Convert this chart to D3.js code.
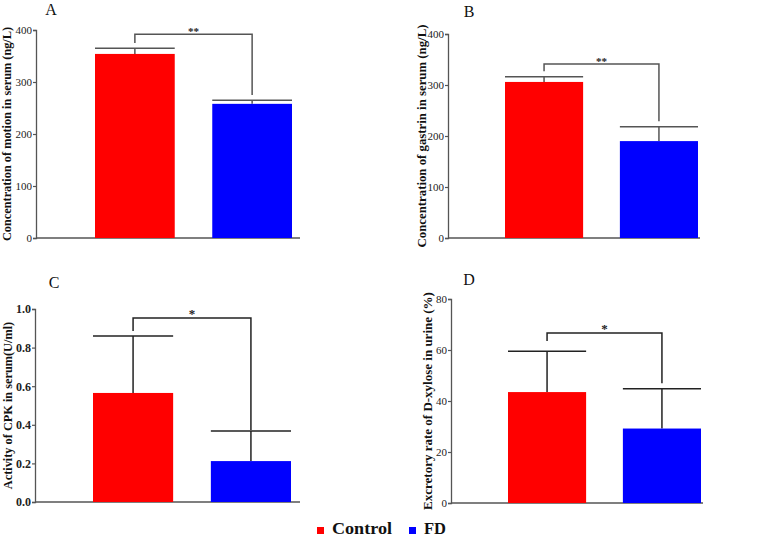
<!DOCTYPE html>
<html><head><meta charset="utf-8">
<script src="https://cdn.jsdelivr.net/npm/d3@7"></script>
<style>body{margin:0;background:#fff}svg{display:block}text{font-family:"Liberation Serif","Times New Roman",serif}</style>
</head><body><svg id="c" width="761" height="538"></svg>
<script>
const groups = ["Control", "FD"];
const panelLetters = ["A", "B", "C", "D"];
const yLabels = [
  "Concentration of  motion in serum (ng/L)",
  "Concentration of  gastrin in serum (ng/L)",
  "Activity of CPK in serum(U/ml)",
  "Excretory rate of D-xylose in urine (%)"
];
const yMaxes = [400, 400, 1.0, 80];
const yTicks = [
  [0, 100, 200, 300, 400],
  [0, 100, 200, 300, 400],
  [0.0, 0.2, 0.4, 0.6, 0.8, 1.0],
  [0, 20, 40, 60, 80]
];
const controlMeans = [354, 306, 0.565, 43.5];
const controlErr = [11, 10, 0.295, 16.0];
const fdMeans = [258, 190, 0.212, 29.2];
const fdErr = [7, 28, 0.156, 15.6];
const sigLabels = ["**", "**", "*", "*"];
const bracketTop = [392, 341, 0.953, 66.7];
const bracketLeftEnd = [375, 327, 0.886, 63.5];
const bracketRightEnd = [275, 229, 0.373, 47];
const colors = ["#ff0000", "#0000ff"];

// layout (pixels)
const layout = [
  {ax:36, xEnd:300, top:30, bottom:238, b0:95, b1:292, lx:51, ly:15, labX:7, tickBold:false, errC:"#555", labSize:12.3, tickSize:11},
  {ax:448, xEnd:700, top:34, bottom:238, b0:505, b1:698, lx:469, ly:17, labX:422, tickBold:false, errC:"#555", labSize:12.8, tickSize:11},
  {ax:35, xEnd:300, top:309, bottom:502, b0:93, b1:291, lx:54, ly:288, labX:8, tickBold:true, errC:"#222", labSize:12.3, tickSize:12},
  {ax:451, xEnd:703, top:299, bottom:503, b0:508, b1:701, lx:469, ly:285, labX:428, tickBold:false, errC:"#222", labSize:13, tickSize:11}
];

const svg = d3.select("#c");
const axisColor = "#555";

layout.forEach((L, i) => {
  const g = svg.append("g");
  const y = d3.scaleLinear().domain([0, yMaxes[i]]).range([L.bottom, L.top]);
  const x = d3.scaleBand().domain(groups).range([L.b0, L.b1]).paddingInner(0.32).paddingOuter(0);
  const means = [controlMeans[i], fdMeans[i]];
  const errs = [controlErr[i], fdErr[i]];
  const fmt = i === 2 ? d3.format(".1f") : d3.format("d");

  // y axis
  const ya = g.append("g").attr("transform", `translate(${L.ax},0)`)
    .call(d3.axisLeft(y).tickValues(yTicks[i]).tickFormat(fmt).tickSize(3).tickPadding(1));
  ya.attr("font-family", null);
  ya.select(".domain").attr("stroke", axisColor).attr("stroke-width", 1.3);
  ya.selectAll(".tick line").attr("stroke", axisColor).attr("stroke-width", 1.2);
  ya.selectAll(".tick text").attr("fill", "#222").attr("font-family", "Liberation Serif")
    .style("font-size", L.tickSize + "px").style("font-weight", L.tickBold ? "bold" : "normal");

  // x axis baseline
  g.append("line").attr("x1", L.ax).attr("x2", L.xEnd).attr("y1", y(0)).attr("y2", y(0))
    .attr("stroke", axisColor).attr("stroke-width", 1.3);

  // error bars
  groups.forEach((k, j) => {
    const cx = x(k) + x.bandwidth() / 2;
    const ty = y(means[j] + errs[j]);
    g.append("line").attr("x1", cx).attr("x2", cx).attr("y1", y(means[j])).attr("y2", ty)
      .attr("stroke", L.errC).attr("stroke-width", 1.5);
    g.append("line").attr("x1", cx - x.bandwidth() * 0.5).attr("x2", cx + x.bandwidth() * 0.5).attr("y1", ty).attr("y2", ty)
      .attr("stroke", L.errC).attr("stroke-width", 1.5);
  });

  // bars
  g.selectAll("rect.bar").data(groups).enter().append("rect").attr("class", "bar")
    .attr("x", k => x(k)).attr("width", x.bandwidth())
    .attr("y", (k, j) => y(means[j])).attr("height", (k, j) => y(0) - y(means[j]))
    .attr("fill", (k, j) => colors[j]);

  // significance bracket
  const xl = x(groups[0]) + x.bandwidth() / 2, xr = x(groups[1]) + x.bandwidth() / 2;
  g.append("path")
    .attr("d", `M${xl},${y(bracketLeftEnd[i])}V${y(bracketTop[i])}H${xr}V${y(bracketRightEnd[i])}`)
    .attr("fill", "none").attr("stroke", L.errC).attr("stroke-width", 1.5);
  const dbl = sigLabels[i] === "**";
  g.append("text").attr("x", (xl + xr) / 2).attr("y", y(bracketTop[i]) + (dbl ? 1 : 0))
    .attr("text-anchor", "middle").style("font-size", dbl ? "11px" : "13px").style("font-weight", "bold")
    .attr("fill", "#222").text(sigLabels[i]);

  // panel letter
  g.append("text").attr("x", L.lx).attr("y", L.ly).attr("text-anchor", "middle")
    .style("font-size", "16px").attr("fill", "#111").text(panelLetters[i]);

  // y label
  const cy = (L.top + L.bottom) / 2;
  g.append("text").attr("transform", `translate(${L.labX + 4},${cy}) rotate(-90)`)
    .attr("text-anchor", "middle").style("font-size", L.labSize + "px").style("font-weight", "bold")
    .attr("fill", "#111").text(yLabels[i]);
});

// legend
const legend = svg.append("g");
const legX = [317, 409];
const legTextW = [60, 22];
groups.forEach((k, j) => {
  legend.append("rect").attr("x", legX[j]).attr("y", 527).attr("width", 7).attr("height", 7).attr("fill", colors[j]);
  legend.append("text").attr("x", legX[j] + 15).attr("y", 534).style("font-size", "16.5px").style("font-weight", "bold")
    .attr("textLength", legTextW[j]).attr("lengthAdjust", "spacingAndGlyphs")
    .attr("fill", "#111").text(k);
});
</script></body></html>
